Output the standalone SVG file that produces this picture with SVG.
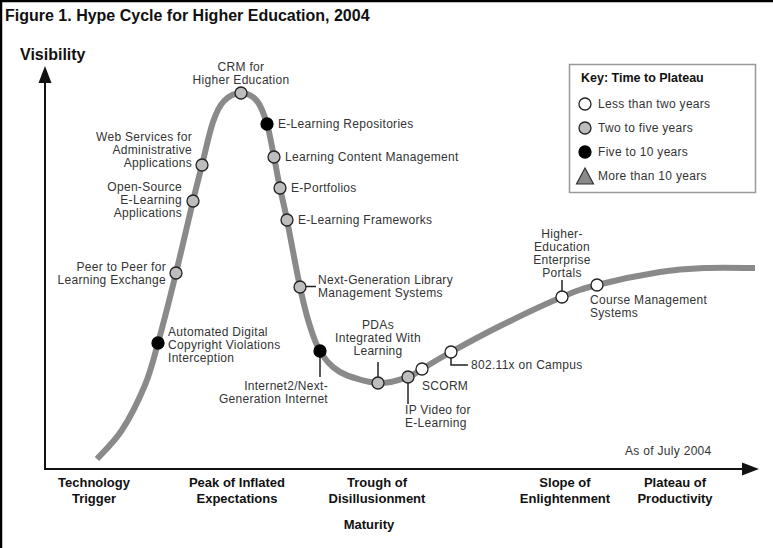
<svg xmlns="http://www.w3.org/2000/svg" width="773" height="548" viewBox="0 0 773 548">
<defs>
<style>
.t{font-family:"Liberation Sans",Arial,sans-serif;font-size:12px;letter-spacing:0.3px;fill:#333}
.e{text-anchor:end}
.m{text-anchor:middle}
.b{font-family:"Liberation Sans",Arial,sans-serif;font-weight:bold;fill:#111}
.ax{font-size:13px;text-anchor:middle}
.curve{fill:none;stroke:#8a8a8a;stroke-width:6;stroke-linecap:butt;stroke-linejoin:round}
.lead{fill:none;stroke:#222;stroke-width:1.5}
.axis{stroke:#111;stroke-width:2;fill:none}
.g{fill:#bdbdbd;stroke:#222;stroke-width:1.3}
.k{fill:#000;stroke:#000;stroke-width:1.3}
.w{fill:#fff;stroke:#222;stroke-width:1.3}
</style>
</defs>
<rect x="0" y="0" width="773" height="548" fill="#fff"/>
<path d="M1,548 V1 H773" fill="none" stroke="#000" stroke-width="2.5"/>
<text class="b" x="5" y="21" font-size="16">Figure 1. Hype Cycle for Higher Education, 2004</text>
<text class="b" x="20" y="60" font-size="16">Visibility</text>

<g id="axes">
<path class="axis" d="M45,470 V80 M45,469 H744"/>
<polygon points="45,66 38.5,83 51.5,83" fill="#111"/>
<polygon points="759,469 742,462.5 742,475.5" fill="#111"/>
</g>

<g id="curve">
<path class="curve" d="M97,459 C101.2,454.2 114,442.3 122,430 C130,417.7 139,399.5 145,385 C151,370.5 152.8,361.7 158,343 C163.2,324.3 170.2,296.7 176,273 C181.8,249.3 188.7,219 193,201 C197.3,183 198.7,178.2 202,165 C205.3,151.8 209.3,132.7 213,122 C216.7,111.3 219.3,105.8 224,101 C228.7,96.2 235.5,93 241,93 C246.5,93 252.7,95.8 257,101 C261.3,106.2 264.2,114.7 267,124 C269.8,133.3 271.8,146.3 274,157 C276.2,167.7 277.8,177.5 280,188 C282.2,198.5 283.7,203.5 287,220 C290.3,236.5 296.3,269.8 300,287 C303.7,304.2 305.7,312.3 309,323 C312.3,333.7 314.8,342.8 320,351 C325.2,359.2 330.3,366.7 340,372 C349.7,377.3 366.7,382.2 378,383 C389.3,383.8 400.7,379.3 408,377 C415.3,374.7 414.8,373.2 422,369 C429.2,364.8 438,359.2 451,352 C464,344.8 481.5,335.2 500,326 C518.5,316.8 545.8,303.8 562,297 C578.2,290.2 580.7,289.2 597,285 C613.3,280.8 642,274.8 660,272 C678,269.2 689.2,268.7 705,268 C720.8,267.3 746.7,268 755,268"/>
</g>

<g id="connectors">
<path class="lead" d="M305,286.5 H316"/>
<path class="lead" d="M320,357 V377"/>
<path class="lead" d="M378,362 V377"/>
<path class="lead" d="M408,383 V404"/>
<path class="lead" d="M451,358 V365 H468"/>
<path class="lead" d="M562,280 V291"/>
</g>

<g id="n-crm"><circle class="g" cx="241" cy="93" r="6"/><text class="t m" x="241" y="71">CRM for</text><text class="t m" x="241" y="84">Higher Education</text></g>
<g id="n-elrep"><circle class="k" cx="267" cy="124" r="6"/><text class="t" x="278" y="128">E-Learning Repositories</text></g>
<g id="n-lcm"><circle class="g" cx="274" cy="157" r="6"/><text class="t" x="285" y="161">Learning Content Management</text></g>
<g id="n-eport"><circle class="g" cx="280" cy="188" r="6"/><text class="t" x="291" y="192">E-Portfolios</text></g>
<g id="n-elfw"><circle class="g" cx="287" cy="220" r="6"/><text class="t" x="298" y="224">E-Learning Frameworks</text></g>
<g id="n-nglib"><circle class="g" cx="300" cy="287" r="6"/><text class="t" x="318" y="284">Next-Generation Library</text><text class="t" x="318" y="297">Management Systems</text></g>
<g id="n-i2"><circle class="k" cx="320" cy="351" r="6"/><text class="t e" x="328" y="390">Internet2/Next-</text><text class="t e" x="328" y="403">Generation Internet</text></g>
<g id="n-pda"><circle class="g" cx="378" cy="383" r="6"/><text class="t m" x="378" y="329">PDAs</text><text class="t m" x="378" y="342">Integrated With</text><text class="t m" x="378" y="355">Learning</text></g>
<g id="n-ipv"><circle class="g" cx="408" cy="377" r="6"/><text class="t" x="405" y="414">IP Video for</text><text class="t" x="405" y="427">E-Learning</text></g>
<g id="n-scorm"><circle class="w" cx="422" cy="369" r="6"/><text class="t" x="422" y="390">SCORM</text></g>
<g id="n-802"><circle class="w" cx="451" cy="352" r="6"/><text class="t" x="471" y="369">802.11x on Campus</text></g>
<g id="n-portal"><circle class="w" cx="562" cy="297" r="6"/><text class="t m" x="562" y="238">Higher-</text><text class="t m" x="562" y="251">Education</text><text class="t m" x="562" y="264">Enterprise</text><text class="t m" x="562" y="277">Portals</text></g>
<g id="n-cms"><circle class="w" cx="597" cy="285" r="6"/><text class="t" x="590" y="304">Course Management</text><text class="t" x="590" y="317">Systems</text></g>
<g id="n-ws"><circle class="g" cx="202" cy="165" r="6"/><text class="t e" x="192" y="141">Web Services for</text><text class="t e" x="192" y="154">Administrative</text><text class="t e" x="192" y="167">Applications</text></g>
<g id="n-os"><circle class="g" cx="193" cy="201" r="6"/><text class="t e" x="182" y="191">Open-Source</text><text class="t e" x="182" y="204">E-Learning</text><text class="t e" x="182" y="217">Applications</text></g>
<g id="n-p2p"><circle class="g" cx="176" cy="273" r="6"/><text class="t e" x="166" y="271">Peer to Peer for</text><text class="t e" x="166" y="284">Learning Exchange</text></g>
<g id="n-adcvi"><circle class="k" cx="158" cy="343" r="6"/><text class="t" x="168" y="336">Automated Digital</text><text class="t" x="168" y="349">Copyright Violations</text><text class="t" x="168" y="362">Interception</text></g>

<g id="key">
<rect x="569.5" y="64.5" width="186" height="128" fill="#fff" stroke="#999" stroke-width="1.5"/>
<text class="b" x="581" y="82" font-size="12.5">Key: Time to Plateau</text>
<circle class="w" cx="585" cy="104" r="6"/><text class="t" x="598" y="108">Less than two years</text>
<circle class="g" cx="585" cy="128" r="6"/><text class="t" x="598" y="132">Two to five years</text>
<circle class="k" cx="585" cy="152" r="6"/><text class="t" x="598" y="156">Five to 10 years</text>
<polygon points="585,168 576.5,184 593.5,184" fill="#8a8a8a" stroke="#333" stroke-width="1.2"/><text class="t" x="598" y="180">More than 10 years</text>
</g>

<text class="t" x="625" y="455">As of July 2004</text>

<g id="phases">
<text class="b ax" x="94" y="487">Technology</text><text class="b ax" x="94" y="503">Trigger</text>
<text class="b ax" x="237" y="487">Peak of Inflated</text><text class="b ax" x="237" y="503">Expectations</text>
<text class="b ax" x="377" y="487">Trough of</text><text class="b ax" x="377" y="503">Disillusionment</text>
<text class="b ax" x="565" y="487">Slope of</text><text class="b ax" x="565" y="503">Enlightenment</text>
<text class="b ax" x="675" y="487">Plateau of</text><text class="b ax" x="675" y="503">Productivity</text>
<text class="b ax" x="369" y="529">Maturity</text>
</g>
</svg>
